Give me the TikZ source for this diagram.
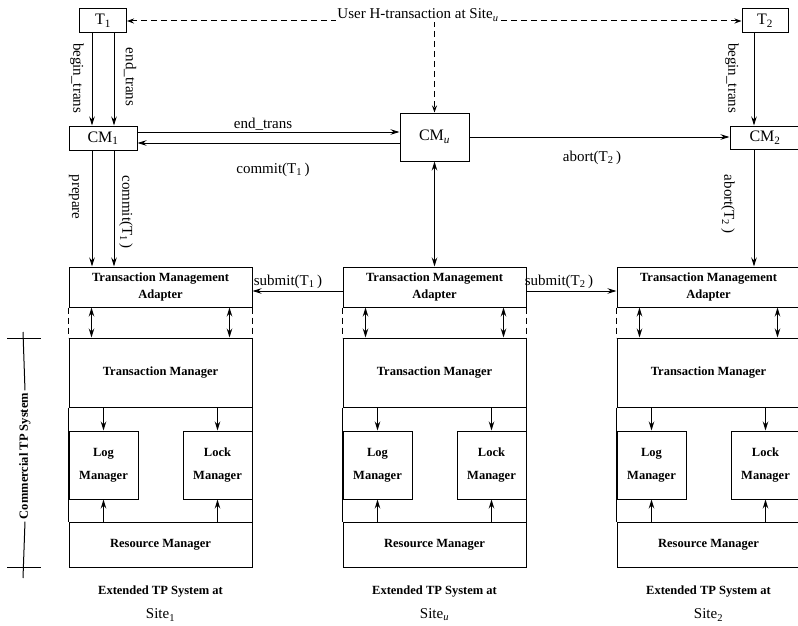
\documentclass[tikz,border=0pt]{standalone}
\usepackage{fontspec}
\setmainfont{Liberation Serif}
\usetikzlibrary{arrows.meta,calc}
\newcommand{\boxfont}{\fontsize{12.5}{15}\selectfont\bfseries}
\newcommand{\lblfont}{\fontsize{15}{18}\selectfont}
\newcommand{\cmfont}{\fontsize{16}{19}\selectfont}
\begin{document}
\begin{tikzpicture}[x=1pt,y=-1pt,line width=1pt,
  box/.style={draw,line width=1pt,inner sep=0pt,align=center,font=\boxfont},
  cmbox/.style={draw,line width=1pt,inner sep=0pt,font=\cmfont},
  lbl/.style={font=\lblfont,inner sep=1pt},
  lblbox/.style={font=\boxfont,inner sep=1pt},
  arr/.style={-{Stealth[length=9pt,width=5.5pt]}},
  darr/.style={{Stealth[length=9pt,width=5.5pt]}-{Stealth[length=9pt,width=5.5pt]}},
  dsh/.style={dash pattern=on 6pt off 4pt}]
\useasboundingbox (0,0) rectangle (798,626);
\clip (0,0) rectangle (798,626);
\fill[white] (0,0) rectangle (798,626);

% three sites
\foreach \ox/\s/\st in {0/a/1,274/u/{\textit{u}},548/b/2}{
\begin{scope}[xshift=\ox pt]
\node[box,minimum width=183pt,minimum height=40pt] (tma\s) at (160.5,287) {Transaction Management\\[2pt]Adapter};
\node[box,minimum width=183pt,minimum height=69pt] (tm\s) at (160.5,372.5) {Transaction Manager};
\node[box,minimum width=69pt,minimum height=68pt] (log\s) at (103.5,465) {Log\\[8pt]Manager};
\node[box,minimum width=69pt,minimum height=68pt] (lock\s) at (217.5,465) {Lock\\[8pt]Manager};
\node[box,minimum width=183pt,minimum height=45pt] (rm\s) at (160.5,544.5) {Resource Manager};
\draw (tm\s.south west) -- (rm\s.north west);
\draw (tm\s.south east) -- (rm\s.north east);
\draw[dsh] (tma\s.south west) -- (tm\s.north west);
\draw[dsh] (tma\s.south east) -- (tm\s.north east);
\draw[darr] ([xshift=23pt]tma\s.south west) -- ([xshift=23pt]tm\s.north west);
\draw[darr] ([xshift=-23pt]tma\s.south east) -- ([xshift=-23pt]tm\s.north east);
\draw[arr] (tm\s.south -| log\s) -- (log\s.north);
\draw[arr] (tm\s.south -| lock\s) -- (lock\s.north);
\draw[arr] (rm\s.north -| log\s) -- (log\s.south);
\draw[arr] (rm\s.north -| lock\s) -- (lock\s.south);
\node[lblbox] (ext\s) at (160.5,592) {Extended TP System at};
\node[lbl] (site\s) at (160.5,615) {Site\textsubscript{\st}};
\end{scope}
}

% transactions and coordination managers
\node[cmbox,minimum width=47pt,minimum height=24pt] (t1) at (103,21) {T\textsubscript{1}};
\node[cmbox,minimum width=46pt,minimum height=24pt] (t2) at (765,21) {T\textsubscript{2}};
\node[cmbox,minimum width=68pt,minimum height=24pt] (cm1) at (103,138) {CM\textsubscript{1}};
\node[cmbox,minimum width=69pt,minimum height=48pt] (cmu) at (434.5,137) {CM\textsubscript{\textit{u}}};
\node[cmbox,minimum width=70pt,minimum height=23pt] (cm2) at (765,137.5) {CM\textsubscript{2}};

% user H-transaction
\draw[dsh,{Stealth[length=7pt,width=5pt]}-{Stealth[length=7pt,width=5pt]}] (t1.east) -- (t2.west);
\coordinate (uj) at (t1.east -| cmu.north);
\draw[dsh,-{Stealth[length=7pt,width=5pt]}] (uj) -- (cmu.north);
\node[lbl,fill=white,anchor=base] (ulbl) at (418,19) {User H-transaction at Site\textsubscript{\textit{u}}};

% T -> CM
\draw[arr] ([xshift=-11pt]t1.south) -- ([xshift=-11pt]cm1.north);
\draw[arr] ([xshift=11pt]t1.south) -- ([xshift=11pt]cm1.north);
\draw[arr] ([xshift=-11pt]t2.south) -- ([xshift=-11pt]cm2.north);
\node[lbl,rotate=-90] (lbt1) at (77,78) {begin\_trans};
\node[lbl,rotate=-90] (let1) at (130,77) {end\_trans};
\node[lbl,rotate=-90] (lbt2) at (732,78) {begin\_trans};

% CM <-> CM
\draw[arr] ([yshift=6pt]cm1.east) -- ([yshift=6pt]cm1.east -| cmu.west);
\draw[arr] ([yshift=-5pt]cm1.east -| cmu.west) -- ([yshift=-5pt]cm1.east);
\draw[arr] (cmu.east) -- (cmu.east -| cm2.west);
\node[lbl] (lend) at (263,124) {end\_trans};
\node[lbl] (lcom) at (273,170) {commit(T\textsubscript{1}\,)};
\node[lbl] (labh) at (592,158) {abort(T\textsubscript{2}\,)};

% CM -> adapters
\draw[arr] ([xshift=-11pt]cm1.south) -- ([xshift=-11pt]cm1.south |- tmaa.north);
\draw[arr] ([xshift=11pt]cm1.south) -- ([xshift=11pt]cm1.south |- tmaa.north);
\draw[darr] (cmu.south) -- (cmu.south |- tmau.north);
\draw[arr] ([xshift=-11pt]cm2.south) -- ([xshift=-11pt]cm2.south |- tmab.north);
\node[lbl,rotate=-90] (lprep) at (74,197) {prepare};
\node[lbl,rotate=-90] (lcomv) at (126,212) {commit(T\textsubscript{1}\,)};
\node[lbl,rotate=-90] (labv) at (728,204) {abort(T\textsubscript{2}\,)};

% submit
\draw[arr] ([yshift=-4pt]tmau.west) -- ([yshift=-4pt]tmau.west -| tmaa.east);
\draw[arr] ([yshift=-4pt]tmau.east) -- ([yshift=-4pt]tmau.east -| tmab.west);
\node[lbl] (ls1) at (288,282) {submit(T\textsubscript{1}\,)};
\node[lbl] (ls2) at (559,282) {submit(T\textsubscript{2}\,)};

% commercial TP system bracket
\node[lblbox,rotate=90,inner sep=2pt] (ctp) at (25,456) {Commercial TP System};
\coordinate (bt) at (23,332);
\coordinate (bb) at (23,578);
\coordinate (k1l) at (7,338);
\coordinate (k1r) at (41,338);
\coordinate (k2l) at (7,567);
\coordinate (k2r) at (41,567);
\draw (bt) -- (ctp.east);
\draw (ctp.west) -- (bb);
\draw (k1l) -- (k1r);
\draw (k2l) -- (k2r);
\end{tikzpicture}
\end{document}
